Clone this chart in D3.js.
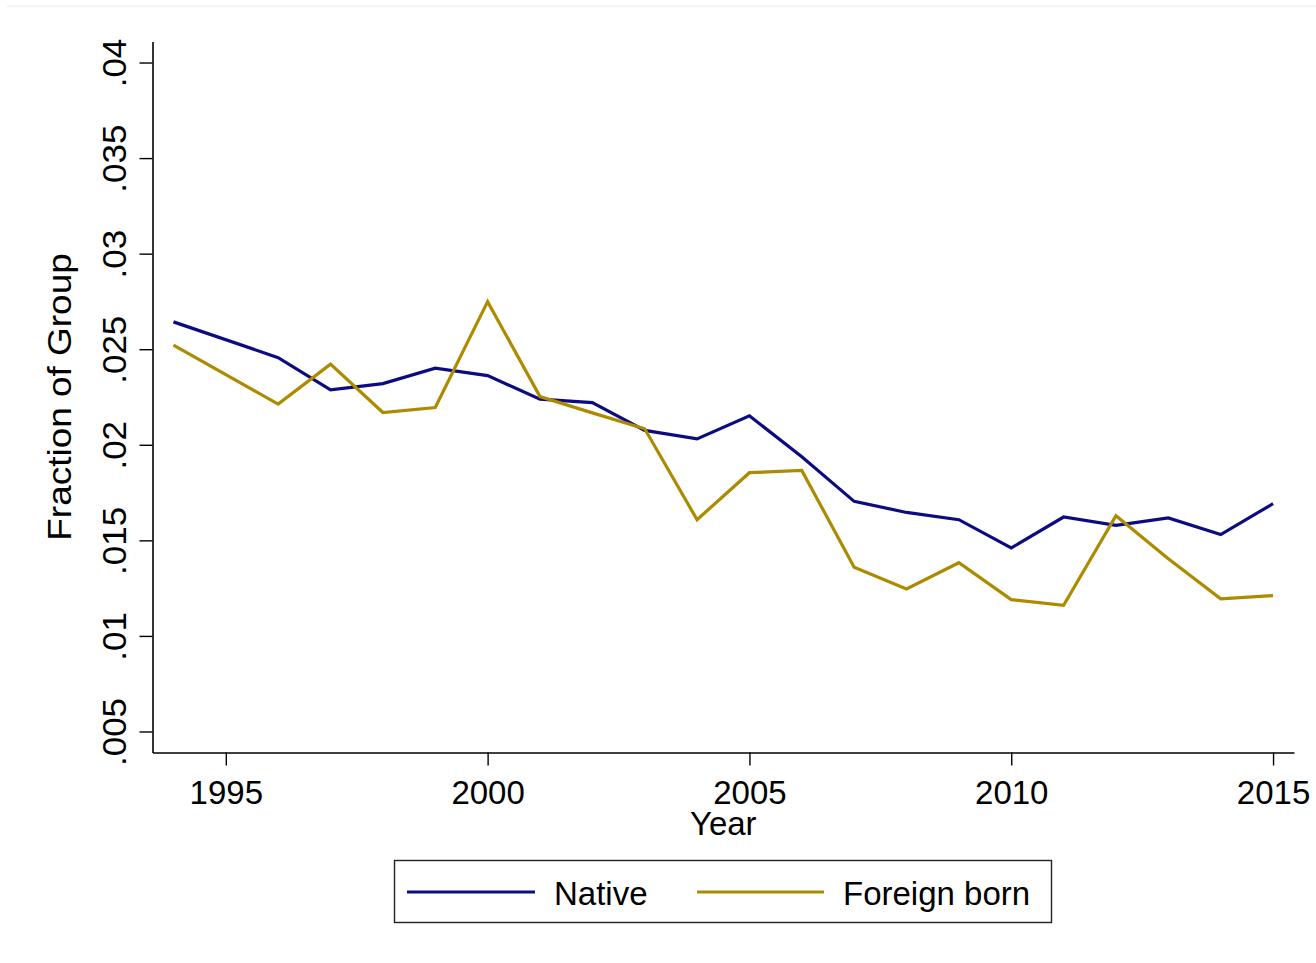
<!DOCTYPE html>
<html>
<head>
<meta charset="utf-8">
<script src="https://cdn.jsdelivr.net/npm/d3@7"></script>
<style>
  html, body { margin: 0; padding: 0; background: #ffffff; }
  svg { display: block; font-family: "Liberation Sans", Arial, Helvetica, sans-serif; }
</style>
</head>
<body>
<svg id="chart" width="1316" height="963"></svg>
<script>
// Survey years (1995 not observed)
const years = [1994, 1996, 1997, 1998, 1999, 2000, 2001, 2002, 2003, 2004, 2005,
               2006, 2007, 2008, 2009, 2010, 2011, 2012, 2013, 2014, 2015];

// Fraction of each group, by year
const native = [0.02643, 0.02456, 0.02287, 0.02320, 0.02401, 0.02362, 0.02239, 0.02221,
                0.02075, 0.02031, 0.02152, 0.01937, 0.01704, 0.01646, 0.01608, 0.01460,
                0.01622, 0.01578, 0.01617, 0.01530, 0.01692];
const foreignBorn = [0.02521, 0.02213, 0.02422, 0.02169, 0.02195, 0.02749, 0.02252, 0.02167,
                     0.02084, 0.01608, 0.01854, 0.01866, 0.01359, 0.01246, 0.01383, 0.01190,
                     0.01160, 0.01629, 0.01404, 0.01194, 0.01211];

const seriesNames = ["Native", "Foreign born"];
const xTicks = [1995, 2000, 2005, 2010, 2015];
const yTicks = [0.005, 0.01, 0.015, 0.02, 0.025, 0.03, 0.035, 0.04];
const xDomain = [1993.6, 2015.4];
const yDomain = [0.0039, 0.0411];

const colors = { "Native": "#0c0c80", "Foreign born": "#ad8b00" };
const fontSize = 33;

const svg = d3.select("#chart");

// faint rule along the top edge
svg.append("rect")
  .attr("x", 7).attr("y", 5.5).attr("width", 1309).attr("height", 1.5)
  .attr("fill", "#edf2f5");

const plot = { left: 152.5, right: 1294, top: 41.5, bottom: 752.5 };

const x = d3.scaleLinear().domain(xDomain).range([plot.left, plot.right]);
const y = d3.scaleLinear().domain(yDomain).range([plot.bottom, plot.top]);

const fmt = v => {
  let s = d3.format(".3f")(v).replace(/0+$/, "");
  return s.replace(/^0/, "");
};

// Y axis
const yAxis = svg.append("g")
  .attr("transform", `translate(${plot.left},0)`)
  .call(d3.axisLeft(y).tickValues(yTicks).tickSize(13).tickSizeOuter(0).tickFormat(fmt));
yAxis.select(".domain").attr("stroke", "#000").attr("stroke-width", 1.6);
yAxis.selectAll(".tick line").attr("stroke", "#000").attr("stroke-width", 1.4);
yAxis.selectAll(".tick text")
  .attr("font-size", fontSize)
  .attr("font-family", "Liberation Sans, Arial, sans-serif")
  .attr("fill", "#000")
  .attr("text-anchor", "middle")
  .attr("x", 0).attr("y", 0).attr("dy", 0)
  .attr("transform", "translate(-27,0) rotate(-90) scale(1.06,1)");

// X axis
const xAxis = svg.append("g")
  .attr("transform", `translate(0,${plot.bottom})`)
  .call(d3.axisBottom(x).tickValues(xTicks).tickSize(13).tickSizeOuter(0).tickFormat(d3.format("d")));
xAxis.select(".domain").attr("stroke", "#000").attr("stroke-width", 1.6);
xAxis.selectAll(".tick line").attr("stroke", "#000").attr("stroke-width", 1.4);
xAxis.selectAll(".tick text")
  .attr("font-size", fontSize)
  .attr("font-family", "Liberation Sans, Arial, sans-serif")
  .attr("fill", "#000")
  .attr("y", 51).attr("dy", 0);

// Axis titles
svg.append("text")
  .attr("x", (plot.left + plot.right) / 2).attr("y", 835)
  .attr("text-anchor", "middle").attr("font-size", fontSize)
  .text("Year");

svg.append("text")
  .attr("transform", `translate(71,${(plot.top + plot.bottom) / 2}) rotate(-90) scale(1.12,1)`)
  .attr("text-anchor", "middle").attr("font-size", fontSize)
  .text("Fraction of Group");

// Series lines
const line = d3.line().x((d, i) => x(years[i])).y(d => y(d));
[[native, "Native"], [foreignBorn, "Foreign born"]].forEach(([vals, name]) => {
  svg.append("path")
    .datum(vals)
    .attr("fill", "none")
    .attr("stroke", colors[name])
    .attr("stroke-width", 3.2)
    .attr("stroke-linejoin", "miter")
    .attr("d", line);
});

// Legend
const legend = svg.append("g");
legend.append("rect")
  .attr("x", 394.5).attr("y", 860.5).attr("width", 657).attr("height", 62)
  .attr("fill", "#fff").attr("stroke", "#222").attr("stroke-width", 1.4);

const legendItems = [
  { name: seriesNames[0], x0: 407, x1: 535, tx: 554 },
  { name: seriesNames[1], x0: 697, x1: 824, tx: 843 }
];
legendItems.forEach(it => {
  legend.append("line")
    .attr("x1", it.x0).attr("x2", it.x1).attr("y1", 892).attr("y2", 892)
    .attr("stroke", colors[it.name]).attr("stroke-width", 3.2);
  legend.append("text")
    .attr("x", it.tx).attr("y", 905)
    .attr("font-size", fontSize)
    .text(it.name);
});
</script>
</body>
</html>
